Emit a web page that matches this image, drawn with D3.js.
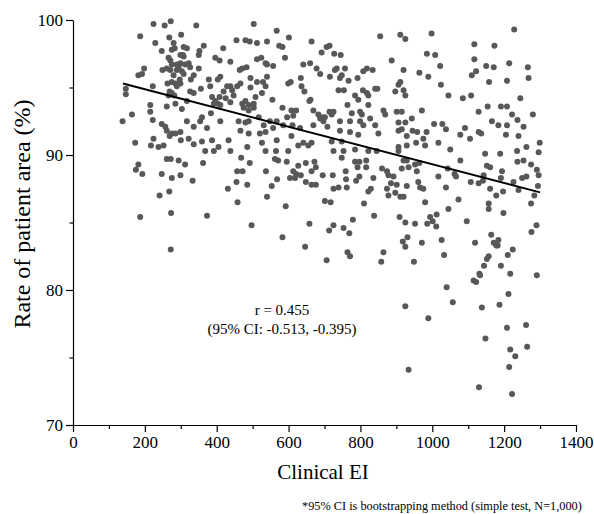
<!DOCTYPE html>
<html><head><meta charset="utf-8">
<script src="https://cdn.jsdelivr.net/npm/d3@7"></script>
<style>
body{margin:0;background:#fff}
svg{display:block;background:#fff}
text{font-family:"Liberation Serif","Times New Roman",serif;fill:#000}
</style>
</head><body><svg id="c" width="594" height="514"></svg>
<script>
const xMajorTicks=[0,200,400,600,800,1000,1200,1400];
const xMinorTicks=[100,300,500,700,900,1100,1300];
const yMajorTicks=[70,80,90,100];
const yMinorTicks=[75,85,95];
const xLabel="Clinical EI";
const yLabel="Rate of patient area (%)";
const annotation=["r = 0.455","(95% CI: -0.513, -0.395)"];
const footnote="*95% CI is bootstrapping method (simple test, N=1,000)";
const fitEI=[139,1300];
const fitRate=[95.3,87.23];
const samples=[
[224,99.7],[255,99.6],[272,99.9],[343,99.6],[503,99.7],[187,98.8],[301,98.9],[268,98.7],[229,98.3],[280,98.3],[247,97.7],[275,97.8],[283,97.9],[308,98.0],[317,97.9],[364,98.1],[352,97.7],[350,97.4],[418,97.9],[455,98.5],[480,98.5],[492,98.4],[512,98.3],[540,98.4],[266,97.2],[271,97.0],[289,96.7],[299,96.8],[308,97.3],[306,97.4],[299,97.4],[294,96.5],[312,96.7],[326,96.5],[322,96.8],[350,96.4],[396,97.2],[408,97.0],[438,96.9],[512,97.1],[524,97.2],[536,96.8],[540,96.7],[471,96.4],[483,96.5],[464,96.3],[198,96.4],[182,95.9],[192,96.0],[249,96.3],[261,96.4],[271,96.3],[280,95.9],[275,96.7],[289,96.3],[303,96.2],[308,96.0],[328,95.6],[297,95.6],[263,95.3],[275,95.4],[285,95.3],[289,95.1],[299,95.3],[336,95.9],[378,95.6],[382,95.1],[403,95.6],[410,95.8],[438,95.1],[457,95.1],[443,94.8],[466,95.3],[494,95.7],[512,95.4],[529,95.4],[540,95.8],[494,95.0],[536,95.1],[526,94.6],[508,94.3],[480,94.0],[489,93.7],[503,93.8],[222,95.1],[269,94.7],[275,94.6],[266,94.4],[282,94.4],[326,94.7],[336,94.6],[356,94.9],[387,94.3],[408,94.3],[419,94.7],[429,95.1],[447,94.4],[425,94.2],[438,93.9],[392,93.8],[403,93.8],[396,94.0],[410,93.7],[471,93.8],[475,93.5],[489,93.3],[503,93.5],[215,93.7],[261,93.6],[285,93.8],[303,93.4],[317,94.0],[384,93.1],[359,92.8],[164,93.0],[215,93.2],[222,92.6],[247,92.3],[257,92.1],[261,91.8],[275,91.6],[299,91.7],[285,91.6],[317,92.5],[336,92.1],[354,92.5],[373,92.0],[410,92.5],[461,92.5],[466,91.8],[480,92.4],[489,92.5],[489,91.6],[517,92.8],[531,92.2],[520,91.6],[536,91.7],[173,90.9],[217,90.7],[224,91.2],[238,90.6],[252,90.7],[269,91.4],[300,91.1],[322,91.2],[336,90.8],[359,91.0],[387,91.1],[392,90.3],[368,90.3],[405,90.6],[433,91.1],[438,90.3],[485,90.6],[526,90.9],[536,90.3],
[147,94.9],[147,94.5],[138,92.5],
[567,99.2],[601,98.7],[664,98.4],[855,98.8],[911,98.9],[925,98.6],[574,98.1],[583,98.0],[714,98.1],[706,98.0],[692,97.6],[727,97.5],[745,97.4],[590,97.2],[641,96.7],[660,96.8],[557,96.6],[678,96.4],[688,96.0],[734,96.4],[729,96.3],[757,96.4],[808,96.2],[818,96.4],[834,96.3],[792,95.7],[715,95.8],[743,95.7],[748,95.9],[634,95.7],[767,95.5],[887,97.0],[920,96.3],[911,95.4],[906,95.2],[599,95.3],[606,95.4],[636,95.1],[644,94.7],[739,94.8],[754,94.8],[807,94.8],[818,94.6],[822,94.4],[785,94.4],[841,94.9],[847,94.9],[897,94.7],[925,94.4],[920,94.8],[555,94.1],[658,94.0],[661,94.1],[764,93.7],[822,93.7],[794,94.1],[583,93.5],[608,93.3],[621,93.3],[669,93.3],[714,93.2],[725,93.2],[776,93.1],[799,93.2],[804,93.0],[864,93.3],[869,93.0],[901,93.2],[915,93.2],[567,92.5],[596,92.8],[613,92.9],[683,93.0],[692,92.8],[701,92.8],[688,92.7],[720,93.0],[697,92.5],[743,92.5],[771,92.5],[799,92.5],[827,92.7],[841,92.2],[906,92.4],[925,92.4],[548,92.5],[557,92.0],[585,92.2],[611,92.2],[632,92.0],[669,92.2],[708,92.1],[743,91.8],[771,91.7],[794,91.5],[808,92.2],[850,91.6],[906,91.8],[915,91.9],[929,91.4],[567,91.1],[608,91.4],[627,90.7],[641,90.9],[655,90.7],[664,90.9],[720,91.0],[748,91.0],[725,90.3],[753,90.3],[785,90.4],[822,90.3],[845,90.3],[906,90.6],[906,90.3],[929,90.7],[599,90.3],[565,90.3],
[998,99.0],[1228,99.3],[985,97.5],[1008,97.4],[1117,98.2],[1173,98.1],[1117,97.1],[1022,96.6],[1150,96.6],[1171,96.5],[1214,96.8],[1266,96.5],[964,96.1],[989,95.8],[1122,96.2],[1110,95.9],[1158,95.4],[1208,95.5],[1268,95.7],[1024,95.2],[1045,94.4],[1085,94.2],[1108,94.4],[1245,94.2],[1154,93.6],[1191,93.6],[1208,93.6],[971,93.3],[1129,93.2],[1222,93.0],[1280,93.0],[1237,92.6],[943,92.7],[1005,92.3],[1028,92.3],[1166,92.5],[1184,92.2],[1208,92.2],[1254,92.1],[1038,91.9],[1091,92.0],[945,91.8],[958,91.7],[984,91.7],[1078,91.5],[1129,91.7],[1136,91.6],[1205,91.5],[1240,91.4],[975,91.2],[1105,91.2],[955,90.9],[980,90.7],[1017,90.9],[1050,90.4],[1147,90.1],[1189,90.1],[1236,90.3],[1262,90.6],[1299,90.9],[1296,90.2],
[182,89.3],[175,88.9],[193,88.6],[261,89.7],[272,89.7],[294,89.6],[312,89.3],[362,89.4],[247,88.6],[275,88.3],[299,88.5],[333,88.1],[241,87.0],[268,87.3],[273,85.7],[187,85.4],[373,85.5],[272,83.0],[468,89.8],[492,89.4],[457,88.8],[472,88.8],[537,88.8],[455,88.0],[485,87.8],[431,87.5],[458,86.5],[540,86.9],[497,84.8],
[562,89.7],[571,89.6],[595,89.5],[627,89.2],[648,89.4],[672,89.5],[676,89.1],[664,88.8],[613,88.8],[621,88.6],[634,88.5],[604,88.3],[618,88.3],[568,88.2],[648,88.0],[664,87.8],[676,87.8],[695,88.5],[723,88.5],[725,87.5],[739,87.6],[760,88.2],[762,87.6],[759,88.8],[748,89.8],[785,89.5],[797,89.5],[792,89.1],[816,89.6],[816,89.1],[788,88.1],[797,88.4],[836,88.3],[822,87.3],[829,87.5],[810,86.4],[860,89.0],[874,88.8],[878,88.5],[892,88.4],[885,87.9],[901,87.8],[874,87.5],[897,87.2],[878,87.0],[911,86.9],[920,86.9],[915,89.0],[920,89.6],[929,89.6],[934,89.1],[929,87.7],[553,87.7],[592,86.2],[701,86.6],[717,86.5],[838,85.5],[909,85.4],[925,85.0],[658,84.9],[779,85.2],[725,84.8],[713,84.4],[753,84.6],[769,84.2],[583,83.9],[646,83.2],[764,82.8],[771,82.5],[706,82.2],[864,82.8],[858,82.1],[918,83.6],[925,83.2],[931,83.9],
[952,89.3],[964,89.4],[957,88.8],[961,88.0],[966,87.6],[975,87.5],[980,86.5],[1017,88.4],[1038,87.6],[1043,89.0],[1062,88.6],[1066,88.4],[1078,89.6],[1107,88.0],[1129,87.9],[1141,88.1],[1143,88.5],[1152,89.2],[1161,89.1],[1194,88.8],[1191,88.3],[1161,87.5],[1178,87.0],[1197,87.3],[1237,89.5],[1254,89.6],[1275,89.3],[1291,88.9],[1296,88.5],[1226,88.0],[1240,87.4],[1250,88.3],[1262,88.4],[1294,87.7],[1284,87.0],[1275,86.4],[1073,86.7],[1045,86.0],[1157,86.4],[1157,86.0],[1198,85.7],[994,85.4],[1012,85.6],[1001,85.1],[1011,84.7],[986,84.9],[952,84.9],[1096,85.1],[971,83.5],[1026,83.7],[1164,84.1],[1119,83.5],[1171,83.5],[1178,83.3],[1184,83.7],[1182,83.3],[1224,83.0],[1210,82.6],[1033,82.6],[949,82.1],[1157,82.5],[1152,82.3],[1144,81.8],[1191,81.8],[1217,81.2],[1290,84.8],[1276,84.3],[1131,81.2],[1133,81.1],[1115,80.7],[1122,80.6],[1040,80.2],[1291,81.1],
[1212,79.7],[1057,79.1],[1187,78.9],[1138,78.7],[989,77.9],[1208,77.2],[1261,77.4],[1148,76.4],[1217,75.6],[1264,75.8],[1231,75.1],[1214,74.3],[1130,72.8],[1222,72.3],[934,74.1],[925,78.8]
];

const svg=d3.select("#c");
const x=d3.scaleLinear().domain([0,1400]).range([73,576]);
const y=d3.scaleLinear().domain([70,100]).range([425,20]);
const FONT='"Liberation Serif","Times New Roman",serif';

// points
svg.append("g").selectAll("circle").data(samples).join("circle")
  .attr("cx",d=>x(d[0])).attr("cy",d=>y(d[1])).attr("r",3)
  .attr("fill","#585858");

// fit line
const fit=fitEI.map((e,i)=>[e,fitRate[i]]);
svg.append("path").datum(fit)
  .attr("d",d3.line().x(d=>x(d[0])).y(d=>y(d[1])))
  .attr("stroke","#000").attr("stroke-width",2).attr("fill","none");

function styleAxis(g){
  g.attr("font-family",FONT).attr("font-size",17);
  g.selectAll("path,line").attr("stroke","#000").attr("stroke-width",1.2);
  g.selectAll("text").attr("fill","#000");
}
// x axis
const gx=svg.append("g").attr("transform","translate(0,425)")
  .call(d3.axisBottom(x).tickValues(xMajorTicks).tickSize(7).tickSizeOuter(0).tickFormat(d3.format("d")));
styleAxis(gx);
gx.selectAll("text").attr("dy",null).attr("y",23);
const gxm=svg.append("g").attr("transform","translate(0,425)")
  .call(d3.axisBottom(x).tickValues(xMinorTicks).tickSize(4).tickFormat(""));
styleAxis(gxm); gxm.select(".domain").remove();

// y axis
const gy=svg.append("g").attr("transform","translate(73,0)")
  .call(d3.axisLeft(y).tickValues(yMajorTicks).tickSize(7).tickSizeOuter(0).tickFormat(d3.format("d")));
styleAxis(gy);
gy.selectAll("text").attr("x",-10).attr("dy","0.33em");
const gym=svg.append("g").attr("transform","translate(73,0)")
  .call(d3.axisLeft(y).tickValues(yMinorTicks).tickSize(3.5).tickFormat(""));
styleAxis(gym); gym.select(".domain").remove();

// labels
svg.append("text").attr("x",323).attr("y",479).attr("text-anchor","middle")
  .attr("font-size",21).text(xLabel);
svg.append("text").attr("transform","translate(30,214) rotate(-90)")
  .attr("text-anchor","middle").attr("font-size",24).text(yLabel);
svg.append("g").selectAll("text").data(annotation).join("text")
  .attr("x",282).attr("y",(d,i)=>315+i*19).attr("text-anchor","middle")
  .attr("font-size",15).text(d=>d);
svg.append("text").attr("x",302).attr("y",510).attr("font-size",12.3).text(footnote);
</script></body></html>
